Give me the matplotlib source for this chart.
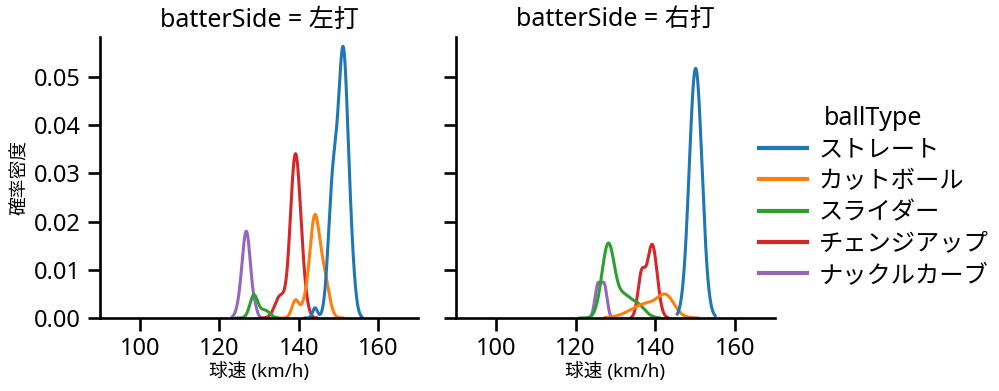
import numpy as np
import matplotlib
matplotlib.use("Agg")
import matplotlib.pyplot as plt

plt.rcParams['font.family'] = ['Noto Sans', 'Noto Sans CJK JP', 'DejaVu Sans']

# ---- data (KDE curves as Gaussian components) ----
ball_types = ["ストレート", "カットボール", "スライダー", "チェンジアップ", "ナックルカーブ"]
colors = ["#1f77b4", "#ff7f0e", "#2ca02c", "#d62728", "#9467bd"]
sides = ["左打", "右打"]

# 左打: component centres (km/h), widths, peak heights; curve extent
left_centers = {
    "ストレート": [151.2, 153.2, 148.6, 144.1],
    "カットボール": [144.0, 146.5, 139.2, 141.5],
    "スライダー": [128.7, 131.5],
    "チェンジアップ": [139.0, 140.5, 135.3],
    "ナックルカーブ": [126.9, 125.5, 129.0],
}
left_widths = {
    "ストレート": [1.2, 1.0, 1.15, 0.6],
    "カットボール": [1.25, 1.2, 0.9, 0.9],
    "スライダー": [1.0, 1.2],
    "チェンジアップ": [1.2, 1.2, 1.3],
    "ナックルカーブ": [1.0, 1.0, 0.6],
}
left_heights = {
    "ストレート": [0.0531, 0.008, 0.027, 0.0021],
    "カットボール": [0.0205, 0.0075, 0.0037, 0.002],
    "スライダー": [0.0047, 0.0016],
    "チェンジアップ": [0.030, 0.008, 0.0045],
    "ナックルカーブ": [0.0168, 0.003, 0.0015],
}
left_extent = {
    "ストレート": (141.6, 155.8),
    "カットボール": (135.7, 151.1),
    "スライダー": (124.3, 134.8),
    "チェンジアップ": (130.6, 144.5),
    "ナックルカーブ": (123.3, 130.6),
}

# 右打
right_centers = {
    "ストレート": [150.1],
    "カットボール": [142.8, 138.0],
    "スライダー": [128.2, 132.0, 135.2],
    "チェンジアップ": [139.2, 136.5],
    "ナックルカーブ": [125.6, 127.2],
}
right_widths = {
    "ストレート": [1.6],
    "カットボール": [2.0, 4.0],
    "スライダー": [1.6, 1.5, 2.0],
    "チェンジアップ": [1.25, 0.9],
    "ナックルカーブ": [0.75, 0.7],
}
right_heights = {
    "ストレート": [0.0518],
    "カットボール": [0.0034, 0.003],
    "スライダー": [0.0154, 0.0035, 0.003],
    "チェンジアップ": [0.0152, 0.0085],
    "ナックルカーブ": [0.0068, 0.0065],
}
right_extent = {
    "ストレート": (145.5, 155.0),
    "カットボール": (127.4, 150.6),
    "スライダー": (121.1, 141.0),
    "チェンジアップ": (134.1, 143.0),
    "ナックルカーブ": (123.8, 129.6),
}

x_ticks = [100, 120, 140, 160]
y_ticks = [0.00, 0.01, 0.02, 0.03, 0.04, 0.05]
x_label = "球速 (km/h)"
y_label = "確率密度"
legend_title = "ballType"
facet_name = "batterSide"

panels = [
    (left_centers, left_widths, left_heights, left_extent),
    (right_centers, right_widths, right_heights, right_extent),
]

W, H = 999, 391
fig = plt.figure(figsize=(W / 100, H / 100), dpi=100)

ax_boxes = [(100, 418), (456, 775)]
top_px, bot_px = 37, 318
axes = []
for i, (l, r) in enumerate(ax_boxes):
    ax = fig.add_axes([l / W, (H - bot_px) / H, (r - l) / W, (bot_px - top_px) / H],
                      sharey=axes[0] if axes else None)
    axes.append(ax)

handles = []
for ax, side, (cen, wid, hgt, ext) in zip(axes, sides, panels):
    for bt, col in reversed(list(zip(ball_types, colors))):
        lo, hi = ext[bt]
        xs = np.linspace(lo, hi, 400)
        ys = np.zeros_like(xs)
        for c, s, h in zip(cen[bt], wid[bt], hgt[bt]):
            ys += h * np.exp(-0.5 * ((xs - c) / s) ** 2)
        ln, = ax.plot(xs, ys, color=col, lw=2.2, label=bt)
        if ax is axes[0]:
            handles.append(ln)
    ax.set_xlim(90, 170)
    ax.set_xticks(x_ticks)
    ax.set_title(f"{facet_name} = {side}", fontsize=18, pad=7)
    ax.set_xlabel(x_label, fontsize=13.5, labelpad=0)
    for sp in ["top", "right"]:
        ax.spines[sp].set_visible(False)
    for sp in ["left", "bottom"]:
        ax.spines[sp].set_linewidth(1.9)
    ax.tick_params(axis="both", labelsize=17, length=9, width=1.9, pad=5)

axes[0].set_ylim(0, 0.0583)
axes[0].set_yticks(y_ticks)
axes[0].set_ylabel(y_label, fontsize=13.5, labelpad=3)
axes[1].tick_params(axis="y", labelleft=False)

handles = handles[::-1]
leg = fig.legend(handles, ball_types, title=legend_title, loc="center left",
                 bbox_to_anchor=(737 / W, (H - 197) / H), frameon=False,
                 fontsize=17.5, title_fontsize=18, handlelength=2.0,
                 labelspacing=0.3, handletextpad=0.45)
for lh in leg.get_lines():
    lh.set_linewidth(3)

fig.savefig("out.png", dpi=100)
